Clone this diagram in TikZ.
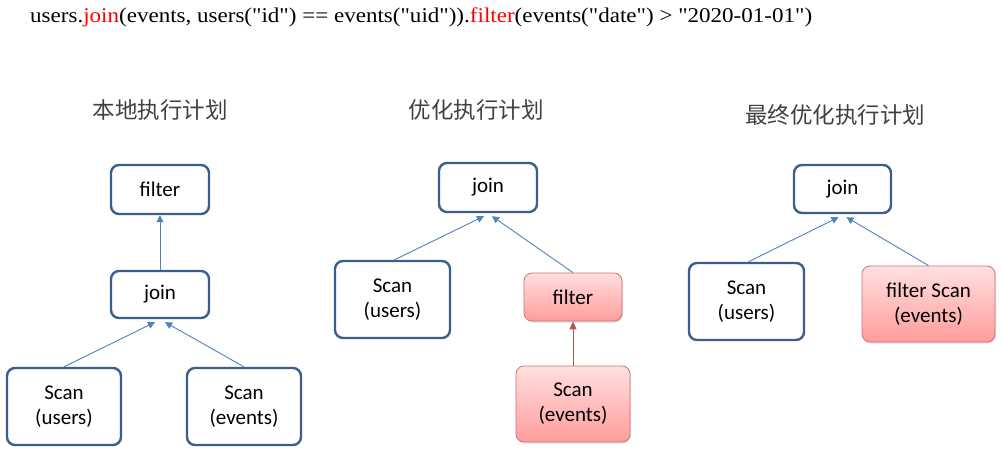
\documentclass[tikz,border=0pt]{standalone}
\usepackage{fontspec}
\setmainfont{Liberation Serif}
\newfontfamily\codefont{Liberation Serif}[Ligatures=TeXOff]
\newfontfamily\cjfont{Noto Sans CJK SC}
\newfontfamily\boxfont{Carlito}
\usetikzlibrary{arrows.meta,shadows}
\definecolor{boxblue}{HTML}{3B5E8C}
\definecolor{linkblue}{HTML}{4F81BD}
\definecolor{pinkborder}{HTML}{C0504D}
\definecolor{pinktop}{HTML}{FFE0E0}
\definecolor{pinkbot}{HTML}{FF9C9C}
\definecolor{redarrow}{HTML}{B85450}
\tikzset{
  opbox/.style={draw=boxblue, line width=2.4pt, rounded corners=8pt, fill=white,
    font=\boxfont\fontsize{21}{25}\selectfont, align=center, inner sep=0pt},
  pinkbox/.style={draw=pinkborder!80, line width=0.8pt, rounded corners=8pt,
    top color=pinktop, bottom color=pinkbot, drop shadow={opacity=0.25, shadow xshift=1pt, shadow yshift=-1.5pt},
    font=\boxfont\fontsize{21}{25}\selectfont, align=center, inner sep=0pt},
  link/.style={draw=linkblue, line width=0.9pt, -{Triangle[length=7pt,width=7pt]}},
  redlink/.style={draw=redarrow, line width=1pt, -{Triangle[length=8pt,width=7pt]}},
  title/.style={font=\cjfont\fontsize{22.5}{26}\selectfont, text=black!75},
}
\begin{document}
\begin{tikzpicture}[x=1pt,y=-1pt]
\useasboundingbox (0,0) rectangle (1002,452);
\node[anchor=west, inner sep=0pt] (code) at (30,17) {\resizebox{782pt}{\height}{\codefont\fontsize{21}{24}\selectfont users.\textcolor{red}{join}(events, users("id") == events("uid")).\textcolor{red}{filter}(events("date") > "2020-01-01")}};

\node[title] (t1) at (160,110) {本地执行计划};
\node[title] (t2) at (476,110) {优化执行计划};
\node[title] (t3) at (835,115) {最终优化执行计划};

% left plan
\node[opbox, minimum width=98pt, minimum height=49pt] (lf) at (160,189.5) {filter};
\node[opbox, minimum width=98pt, minimum height=47pt] (lj) at (160,294.5) {join};
\node[opbox, minimum width=114pt, minimum height=77pt] (lu) at (64,406.5) {Scan\\(users)};
\node[opbox, minimum width=114pt, minimum height=77pt] (le) at (244,406.5) {Scan\\(events)};
\draw[link] (lj.north) -- (lf.south);
\coordinate (lja) at ([xshift=-5pt,yshift=-3pt]lj.south);
\coordinate (ljb) at ([xshift=5pt,yshift=-3pt]lj.south);
\draw[link] (lu.north) -- (lja);
\draw[link] (le.north) -- (ljb);

% middle plan
\node[opbox, minimum width=98pt, minimum height=49pt] (mj) at (488,187.5) {join};
\node[opbox, minimum width=115pt, minimum height=77pt] (mu) at (392.5,299.5) {Scan\\(users)};
\node[pinkbox, minimum width=98pt, minimum height=48pt] (mf) at (573,297) {filter};
\node[pinkbox, minimum width=114pt, minimum height=76pt] (me) at (573,404) {Scan\\(events)};
\coordinate (mja) at ([xshift=-4pt,yshift=-3pt]mj.south);
\coordinate (mjb) at ([xshift=4pt,yshift=-3pt]mj.south);
\draw[link] ([xshift=2pt]mu.north) -- (mja);
\draw[link] (mf.north) -- (mjb);
\draw[redlink] (me.north) -- (mf.south);

% right plan
\node[opbox, minimum width=97pt, minimum height=48pt] (rj) at (842.5,189) {join};
\node[opbox, minimum width=115pt, minimum height=77pt] (ru) at (746.5,301.5) {Scan\\(users)};
\node[pinkbox, minimum width=133pt, minimum height=76pt] (rf) at (928.5,304) {filter Scan\\(events)};
\coordinate (rja) at ([xshift=-4pt,yshift=-3pt]rj.south);
\coordinate (rjb) at ([xshift=4pt,yshift=-3pt]rj.south);
\draw[link] ([xshift=2pt]ru.north) -- (rja);
\draw[link] (rf.north) -- (rjb);
\end{tikzpicture}
\end{document}
